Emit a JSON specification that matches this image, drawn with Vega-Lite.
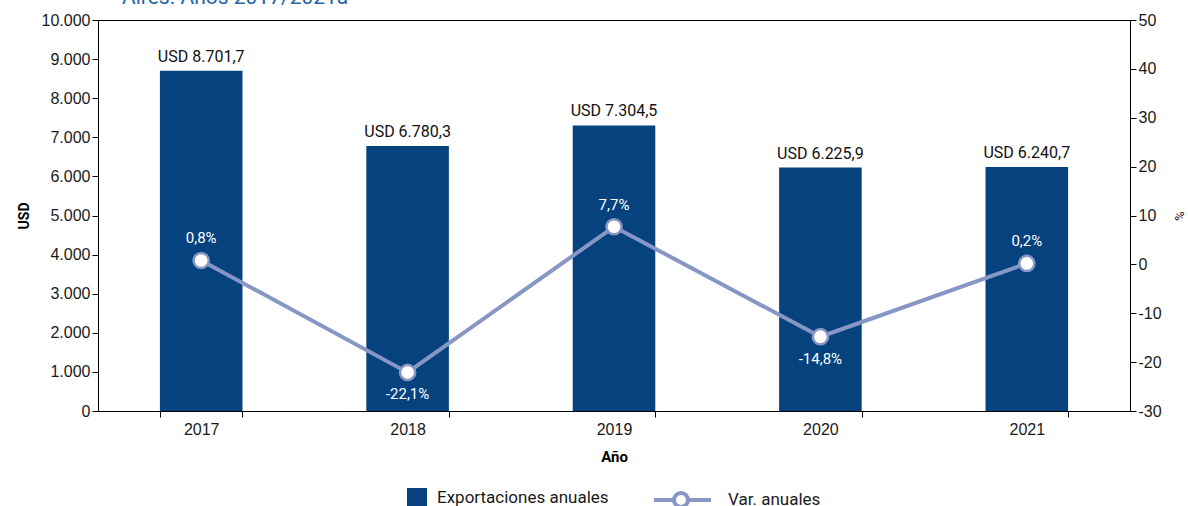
{
  "$schema": "https://vega.github.io/schema/vega-lite/v6.json",
  "width": 1032,
  "height": 391,
  "autosize": {"type": "none"},
  "padding": {"left": 98, "top": 20, "right": 58, "bottom": 95},
  "background": "white",
  "config": {
    "locale": {"number": {"decimal": ",", "thousands": ".", "grouping": [3], "currency": ["$", ""], "minus": "-"}},
    "view": {"stroke": "black", "strokeWidth": 1},
    "font": "Liberation Sans",
    "axis": {
      "domainColor": "black", "tickColor": "black", "tickSize": 6,
      "labelColor": "#1a1a1a", "labelFontSize": 16, "labelFont": "Liberation Sans",
      "grid": false, "titleFontSize": 15, "titleColor": "black", "titleFont": "Roboto"
    },
    "legend": {
      "labelFont": "Roboto", "labelFontSize": 17, "labelColor": "#1a1a1a", "labelLimit": 400,
      "layout": {"bottom": {"anchor": "middle", "direction": "horizontal", "margin": 80}}
    }
  },
  "title": {
    "text": "Aires. Años 2017/2021a",
    "anchor": "start",
    "frame": "group",
    "baseline": "alphabetic",
    "offset": 0,
    "dy": 13,
    "dx": 24,
    "fontSize": 21,
    "font": "Roboto",
    "fontWeight": "normal",
    "color": "#2565a6"
  },
  "data": {
    "values": [
      {"anio": "2017", "usd": 8701.7, "var": 0.8},
      {"anio": "2018", "usd": 6780.3, "var": -22.1},
      {"anio": "2019", "usd": 7304.5, "var": 7.7},
      {"anio": "2020", "usd": 6225.9, "var": -14.8},
      {"anio": "2021", "usd": 6240.7, "var": 0.2}
    ]
  },
  "transform": [
    {"calculate": "'USD ' + format(datum.usd, ',.1f')", "as": "usdLabel"},
    {"calculate": "format(datum.var, '.1f') + '%'", "as": "varLabel"}
  ],
  "encoding": {
    "x": {
      "field": "anio", "type": "ordinal",
      "scale": {"paddingInner": 0.6, "paddingOuter": 0.3},
      "axis": {"title": "Año", "labelAngle": 0, "tickBand": "extent", "titlePadding": 12, "titleFontWeight": "bold", "labelPadding": 4}
    }
  },
  "layer": [
    {
      "encoding": {
        "y": {
          "field": "usd", "type": "quantitative",
          "scale": {"domain": [0, 10000], "nice": false},
          "axis": {"title": "USD", "values": [0,1000,2000,3000,4000,5000,6000,7000,8000,9000,10000], "format": ",.0f", "titleFontWeight": "bold", "titlePadding": 10, "titleFontSize": 14}
        }
      },
      "layer": [
        {
          "mark": {"type": "bar", "color": "#05427e"},
          "encoding": {
            "fill": {
              "datum": "Exportaciones anuales",
              "scale": {"range": ["#05427e"]},
              "legend": {
                "title": null, "orient": "bottom", "offset": 24,
                "symbolType": "square",
                "symbolSize": 400, "symbolStrokeWidth": 0, "labelOffset": 10
              }
            }
          }
        },
        {
          "mark": {"type": "text", "baseline": "bottom", "dy": -6, "font": "Roboto", "fontSize": 16, "color": "#111111"},
          "encoding": {"text": {"field": "usdLabel"}}
        }
      ]
    },
    {
      "encoding": {
        "y": {
          "field": "var", "type": "quantitative",
          "scale": {"domain": [-30, 50], "nice": false},
          "axis": {"title": "%", "orient": "right", "values": [-30,-20,-10,0,10,20,30,40,50], "titleFontWeight": "normal", "titlePadding": 10, "titleFontSize": 13}
        }
      },
      "layer": [
        {
          "mark": {"type": "line", "strokeWidth": 4},
          "encoding": {
            "stroke": {
              "datum": "Var. anuales",
              "scale": {"range": ["#8796c4"]},
              "legend": {
                "title": null, "orient": "bottom", "offset": 24,
                "symbolType": "M-4.7,0H-2.7M-1.3,0H1M-2.7,0A0.7,0.7 0 1,0 -1.3,0A0.7,0.7 0 1,0 -2.7,0Z",
                "symbolSize": 400, "symbolStrokeWidth": 4, "symbolFillColor": "white", "labelOffset": 15
              }
            }
          }
        },
        {
          "mark": {"type": "point", "filled": true, "fill": "white", "stroke": "#8796c4", "strokeWidth": 2.5, "size": 230, "opacity": 1}
        },
        {
          "transform": [{"filter": "datum.var >= 0"}],
          "mark": {"type": "text", "dy": -22, "font": "Roboto", "fontSize": 15, "color": "white"},
          "encoding": {"text": {"field": "varLabel"}}
        },
        {
          "transform": [{"filter": "datum.var < 0"}],
          "mark": {"type": "text", "dy": 22, "font": "Roboto", "fontSize": 15, "color": "white"},
          "encoding": {"text": {"field": "varLabel"}}
        }
      ]
    }
  ],
  "resolve": {"scale": {"y": "independent"}}
}
